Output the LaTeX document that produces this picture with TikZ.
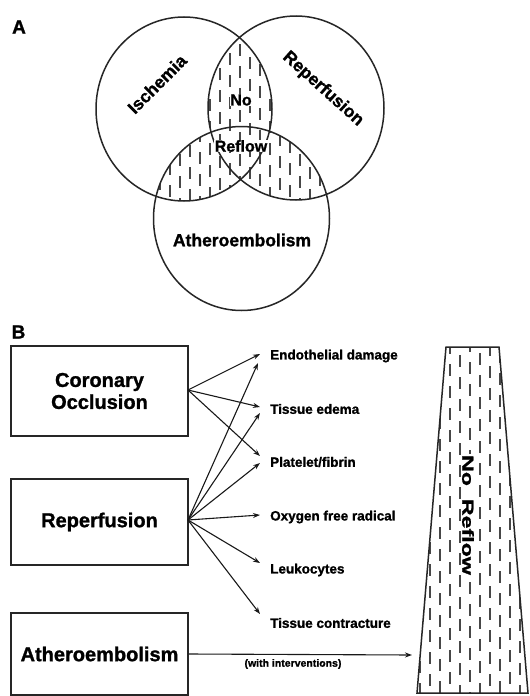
\documentclass[tikz,border=0pt]{standalone}
\usepackage{fontspec}
\setmainfont{Liberation Sans}[BoldFeatures={FakeBold=1.2}]
\usetikzlibrary{arrows.meta}
\newcommand\myhatch[4]{% x0 x1 y0 y1
  \pgfmathtruncatemacro\hxb{#1+10}%
  \pgfmathtruncatemacro\hyb{#3+22}%
  \foreach \hx [count=\hc] in {#1,\hxb,...,#2}{%
    \pgfmathsetmacro\hoff{mod(\hc,2)*11+mod(\hc,3)*2}%
    \foreach \hy in {#3,\hyb,...,#4}{%
      \draw[hatch] (\hx,\hy+\hoff) -- ++(0,12);
    }%
  }%
}
\begin{document}
\begin{tikzpicture}[x=1pt,y=-1pt,
  ring/.style={draw=black!85,line width=1.5pt},
  hatch/.style={draw=black!72,line width=1.25pt},
  box/.style={draw=black!85,line width=1.5pt,minimum width=177pt,inner sep=0pt,align=center,
    font=\bfseries\fontsize{20}{22}\selectfont},
  lab/.style={anchor=west,inner sep=0pt,font=\bfseries\fontsize{13.5}{15}\selectfont},
  venn/.style={inner sep=0pt,font=\bfseries\fontsize{17.5}{19}\selectfont},
  panel/.style={inner sep=0pt,font=\bfseries\fontsize{19}{20}\selectfont},
  arr/.style={draw=black!90,line width=1.1pt,-{Stealth[length=7pt,width=5pt]}}
]
\useasboundingbox[fill=white] (0,0) rectangle (530,696);

% ---------------- Panel A ----------------
\node[panel] (pa) at (19,27) {A};

\def\cI{(184,109) ellipse [x radius=88pt,y radius=92pt]}
\def\cR{(296,108) ellipse [x radius=88pt,y radius=92pt]}
\def\cA{(241.5,218.5) ellipse [x radius=88pt,y radius=92pt]}

\begin{scope}
  \clip \cI; \clip \cR;
  \myhatch{150}{340}{20}{215}
\end{scope}
\begin{scope}
  \clip \cI; \clip \cA;
  \myhatch{150}{340}{20}{215}
\end{scope}
\begin{scope}
  \clip \cR; \clip \cA;
  \myhatch{150}{340}{20}{215}
\end{scope}

\draw[ring] \cI;
\draw[ring] \cR;
\draw[ring] \cA;

\node[venn,rotate=45] (isch) at (157,84) {Ischemia};
\node[venn,rotate=-42] (repA) at (323,89) {Reperfusion};
\node[venn] (athA) at (242,240) {Atheroembolism};
\node[venn,fill=white,inner sep=0.6pt,font=\bfseries\fontsize{16}{17}\selectfont] (no) at (241,100) {No};
\node[venn,fill=white,inner sep=0.6pt,font=\bfseries\fontsize{16}{17}\selectfont] (reflow) at (241,146) {Reflow};

% ---------------- Panel B ----------------
\node[panel] (pb) at (18.5,332) {B};

\node[box,minimum height=90pt] (co) at (99.5,391) {Coronary\\Occlusion};
\node[box,minimum height=86pt] (rp) at (99.5,522) {Reperfusion};
\node[box,minimum height=82pt] (ae) at (99.5,654) {Atheroembolism};

\node[lab] (ed) at (270,356) {Endothelial damage};
\node[lab] (te) at (270,409) {Tissue edema};
\node[lab] (pf) at (270,462) {Platelet/fibrin};
\node[lab] (ox) at (270,517) {Oxygen free radical};
\node[lab] (le) at (270,570) {Leukocytes};
\node[lab] (tc) at (270,623) {Tissue contracture};

\coordinate (ed1) at (260,354);
\coordinate (ed2) at (258,363);
\coordinate (te1) at (260,407);
\coordinate (te2) at (260,413);
\coordinate (pf1) at (260,456);
\coordinate (pf2) at (260,463);
\coordinate (ox2) at (260,515);
\coordinate (le2) at (260,563);
\coordinate (tc2) at (260,614);

\coordinate (cs) at (188,390);
\coordinate (rs) at (188,520);

\draw[arr] (cs) -- (ed1);
\draw[arr] (cs) -- (te1);
\draw[arr] (cs) -- (pf1);
\draw[arr] (rs) -- (ed2);
\draw[arr] (rs) -- (te2);
\draw[arr] (rs) -- (pf2);
\draw[arr] (rs) -- (ox2);
\draw[arr] (rs) -- (le2);
\draw[arr] (rs) -- (tc2);

% No reflow trapezoid
\def\trap{(446,347) -- (499,347) -- (528,693) -- (417,693) -- cycle}
\begin{scope}
  \clip \trap;
  \myhatch{420}{530}{340}{700}
\end{scope}
\draw[ring] \trap;
\node[rotate=-90,fill=white,inner sep=0.8pt,font=\bfseries\fontsize{16}{17}\selectfont] (nrt) at (468,515) {\scalebox{1.45}[1]{No\ \ Reflow}};

\coordinate (nr) at (412,655);
\draw[arr] (ae.east) -- (nr);
\node[inner sep=0pt,font=\bfseries\fontsize{10.5}{12}\selectfont] (wi) at (293,664) {(with interventions)};

\end{tikzpicture}
\end{document}
